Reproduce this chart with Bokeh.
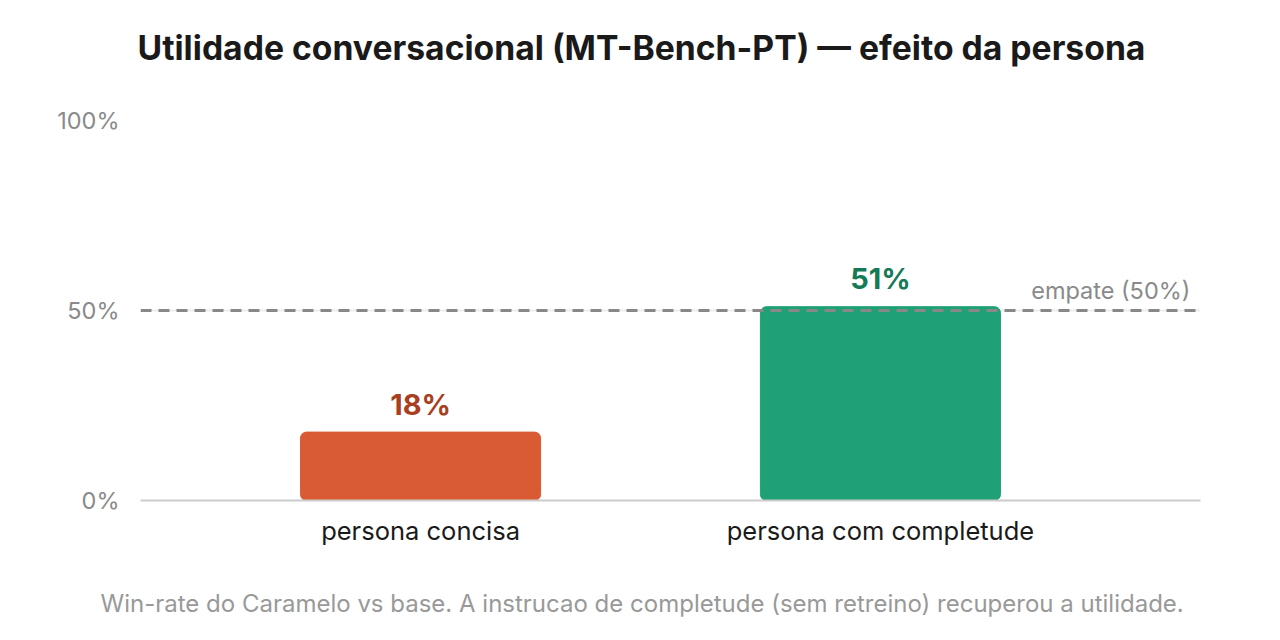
from bokeh.plotting import figure
from bokeh.models import ColumnDataSource, Span, Label, Title, FixedTicker, Range1d
from bokeh.core.properties import value
from bokeh.embed import file_html
from bokeh.resources import INLINE

categories = ["persona concisa", "persona com completude"]
win_rate = [18, 51]
bar_colors = ["#d95b33", "#1fa076"]
label_colors = ["#a8401f", "#157a57"]
y_ticks = [0, 50, 100]
tie_value = 50
tie_label = "empate (50%)"
title_text = "Utilidade conversacional (MT-Bench-PT) \u2014 efeito da persona"
note_text = "Win-rate do Caramelo vs base. A instrucao de completude (sem retreino) recuperou a utilidade."

FONT = "Inter"
xs = list(range(len(categories)))

src = ColumnDataSource(dict(
    x=xs, y=win_rate, color=bar_colors, lcolor=label_colors,
    label=[f"{v}%" for v in win_rate],
))

p = figure(width=1264, height=624, output_backend="svg", toolbar_location=None,
           x_range=Range1d(-0.609, 1.696), y_range=Range1d(0, 100),
           min_border_left=140, min_border_right=64, min_border_top=120, min_border_bottom=124)

# spacing panels (blank) to place title / footnote at the right heights
top_gap = Title(text=" ", text_font_size="2px", standoff=39)
p.add_layout(top_gap, "above")
main_title = Title(text=title_text, align="left", offset=-3, standoff=20,
                   text_font=FONT, text_font_size="33.7px", text_font_style="bold",
                   text_color="#1a1a1a")
p.add_layout(main_title, "above")

p.vbar(x="x", top="y", width=0.522, bottom=0, color="color", source=src, border_radius=6)

p.text(x="x", y="y", text="label", text_color="lcolor", source=src,
       text_align="center", text_baseline="middle", y_offset=-28,
       text_font=value(FONT), text_font_size="29px", text_font_style="bold")

p.add_layout(Span(location=tie_value, dimension="width", line_color="#888888",
                  line_width=3, line_dash="11 7"))
p.add_layout(Label(x=1.674, y=tie_value, text=tie_label, text_align="right",
                   text_baseline="bottom", y_offset=6, text_color="#8a8a8a",
                   text_font=FONT, text_font_size="23.5px"))

p.outline_line_color = None
p.background_fill_color = "white"
p.border_fill_color = "white"

p.xgrid.grid_line_color = None
p.ygrid.grid_line_color = "#ececec"
p.ygrid.grid_line_width = 2
p.ygrid.ticker = FixedTicker(ticks=y_ticks)

p.yaxis.ticker = FixedTicker(ticks=y_ticks)
p.yaxis.major_label_overrides = {t: f"{t}%" for t in y_ticks}
p.yaxis.axis_line_color = None
p.yaxis.major_tick_line_color = None
p.yaxis.minor_tick_line_color = None
p.yaxis.major_label_text_font = FONT
p.yaxis.major_label_text_font_size = "23.5px"
p.yaxis.major_label_text_color = "#8a8a8a"
p.yaxis.major_label_standoff = 15

p.xaxis.ticker = FixedTicker(ticks=xs)
p.xaxis.major_label_overrides = {i: c for i, c in enumerate(categories)}
p.xaxis.axis_line_color = "#cccccc"
p.xaxis.axis_line_width = 2
p.xaxis.major_tick_line_color = None
p.xaxis.minor_tick_line_color = None
p.xaxis.major_label_text_font = FONT
p.xaxis.major_label_text_font_size = "25.5px"
p.xaxis.major_label_text_color = "#1a1a1a"
p.xaxis.major_label_standoff = 8

bottom_gap = Title(text=" ", text_font_size="2px", standoff=30)
p.add_layout(bottom_gap, "below")
note = Title(text=note_text, align="left", offset=-40, standoff=8,
             text_font=FONT, text_font_size="24px", text_font_style="normal",
             text_color="#999999")
p.add_layout(note, "below")

open("out.html", "w").write(file_html(p, INLINE))
